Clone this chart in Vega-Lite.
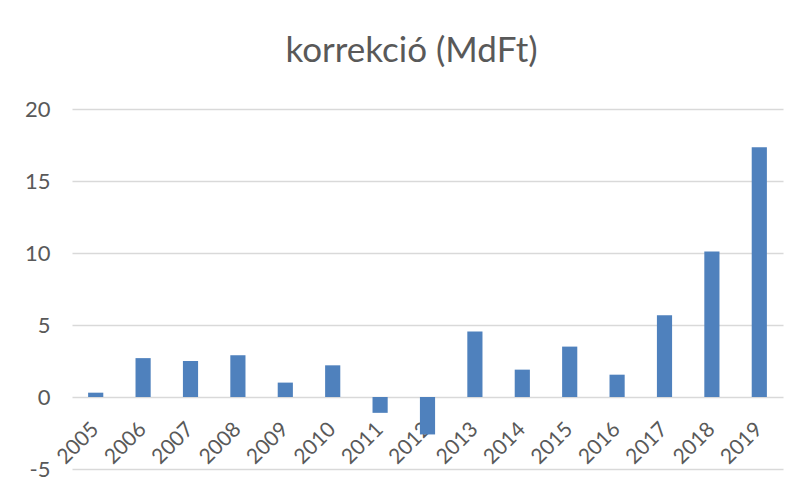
{
  "$schema": "https://vega.github.io/schema/vega-lite/v6.json",
  "width": 711,
  "height": 360,
  "autosize": {"type": "none"},
  "padding": {"left": 72, "top": 109, "right": 15, "bottom": 23},
  "background": "white",
  "title": {
    "text": "korrekció (MdFt)",
    "font": "Lato",
    "fontSize": 35,
    "fontWeight": "normal",
    "color": "#595959",
    "anchor": "middle",
    "frame": "group",
    "dx": -16,
    "offset": 29
  },
  "data": {
    "values": [
      {"year": "2005", "value": 0.3},
      {"year": "2006", "value": 2.7},
      {"year": "2007", "value": 2.5},
      {"year": "2008", "value": 2.9},
      {"year": "2009", "value": 1.0},
      {"year": "2010", "value": 2.2},
      {"year": "2011", "value": -1.1},
      {"year": "2012", "value": -2.6},
      {"year": "2013", "value": 4.55},
      {"year": "2014", "value": 1.9},
      {"year": "2015", "value": 3.5},
      {"year": "2016", "value": 1.55},
      {"year": "2017", "value": 5.67},
      {"year": "2018", "value": 10.1},
      {"year": "2019", "value": 17.35}
    ]
  },
  "mark": {"type": "bar", "color": "#4F81BD"},
  "encoding": {
    "x": {
      "field": "year",
      "type": "ordinal",
      "scale": {"paddingInner": 0.68, "paddingOuter": 0.34},
      "axis": {
        "title": null,
        "domain": false,
        "ticks": false,
        "offset": -72,
        "labelAngle": -45,
        "labelAlign": "right",
        "labelBaseline": "middle",
        "labelPadding": 29,
        "labelFont": "Lato",
        "labelFontSize": 21,
        "labelColor": "#595959",
        "grid": false
      }
    },
    "y": {
      "field": "value",
      "type": "quantitative",
      "scale": {"domain": [-5, 20], "nice": false, "zero": false},
      "axis": {
        "title": null,
        "values": [-5, 0, 5, 10, 15, 20],
        "labelExpr": "datum.value < 0 ? '-' + abs(datum.value) : datum.label",
        "domain": false,
        "ticks": false,
        "labelPadding": 22,
        "labelFont": "Lato",
        "labelFontSize": 22,
        "labelColor": "#595959",
        "grid": true,
        "gridColor": "#D9D9D9",
        "gridWidth": 1.5
      }
    }
  },
  "config": {"view": {"stroke": null}}
}
